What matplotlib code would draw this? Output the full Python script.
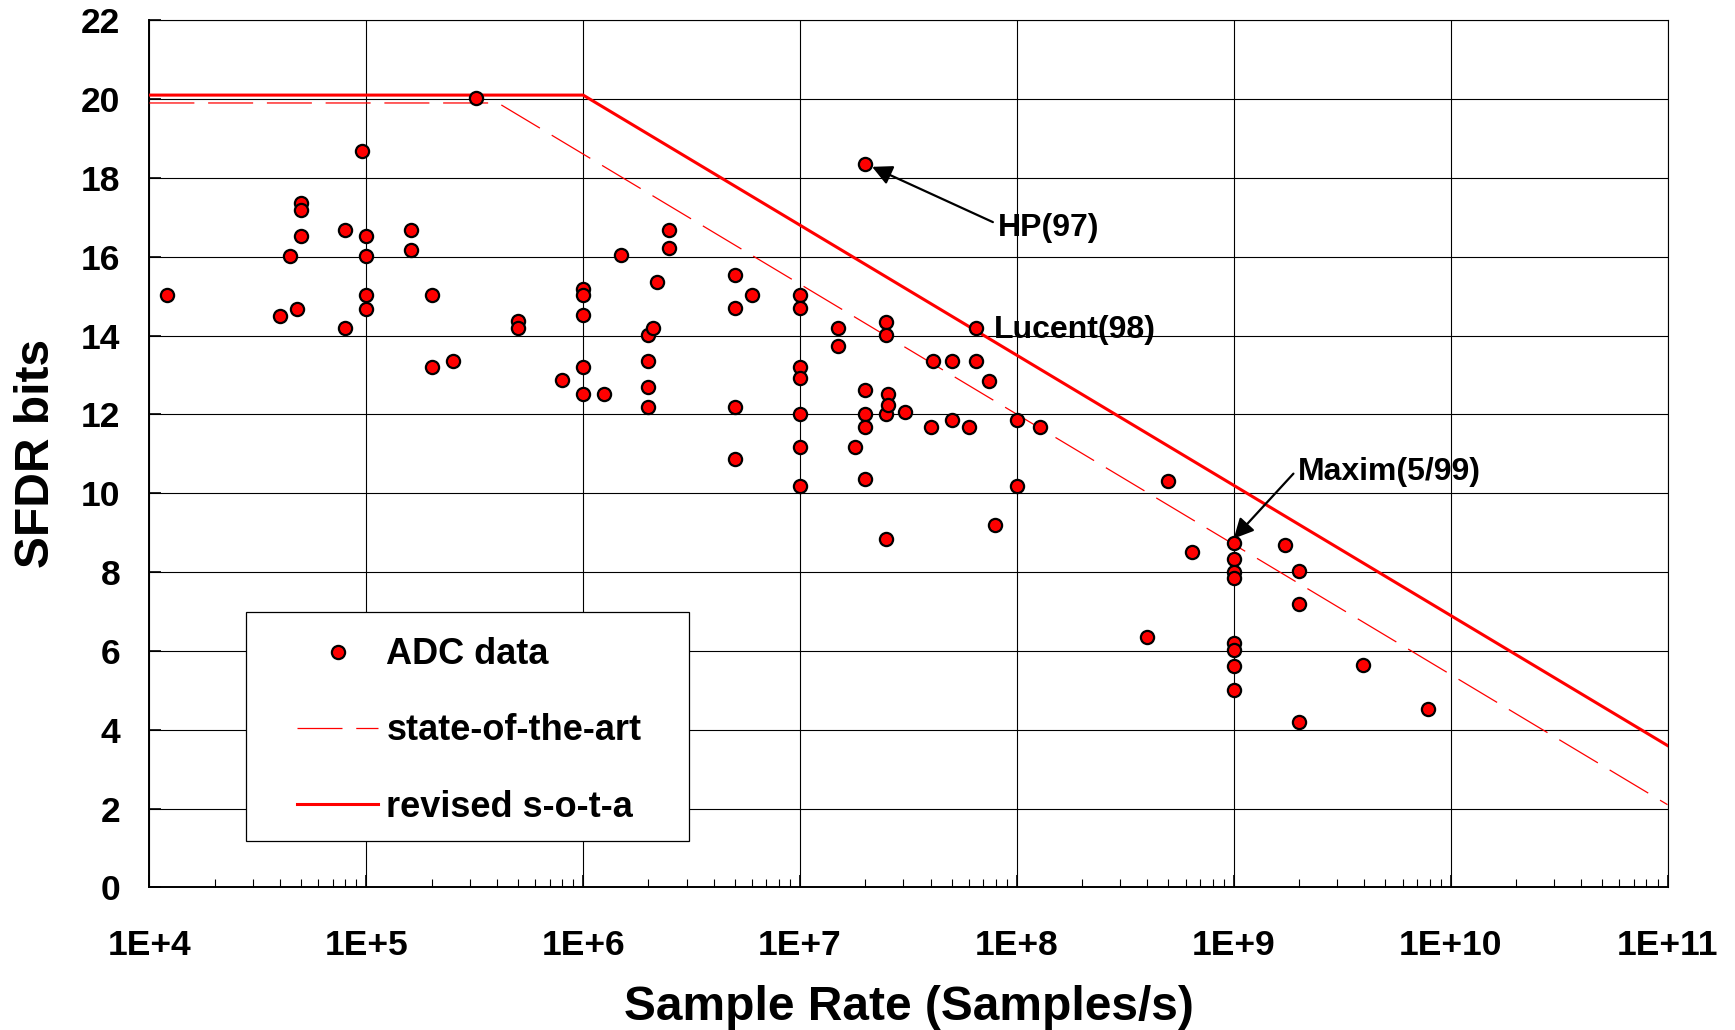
"""Plot ADC SFDR (bits) against sample rate with state-of-the-art lines."""
import matplotlib
matplotlib.use("Agg")
import matplotlib.pyplot as plt
from matplotlib.patches import Rectangle
from matplotlib.ticker import FixedLocator, LogLocator, NullFormatter

# ADC data: sample rate (Samples/s) and SFDR bits
rate = [
    1.2e4, 4.0e4, 4.45e4, 4.8e4, 5e4, 5e4, 5e4, 8e4, 8e4, 9.6e4,
    1e5, 1e5, 1e5, 1e5, 1.6e5, 1.6e5, 2e5, 2e5, 2.5e5, 3.2e5,
    5e5, 5e5, 8e5, 1e6, 1e6, 1e6, 1e6, 1e6, 1.25e6, 1.5e6,
    2e6, 2e6, 2e6, 2e6, 2.1e6, 2.2e6, 2.5e6, 2.5e6,
    5e6, 5e6, 5e6, 5e6, 6e6,
    1e7, 1e7, 1e7, 1e7, 1e7, 1e7, 1e7,
    1.5e7, 1.5e7, 1.8e7, 2e7, 2e7, 2e7, 2e7, 2e7,
    2.5e7, 2.5e7, 2.5e7, 2.5e7, 2.55e7, 2.55e7, 3.05e7,
    4e7, 4.1e7, 5e7, 5e7, 6e7, 6.45e7, 6.45e7, 7.45e7, 7.9e7,
    1e8, 1e8, 1.28e8, 4e8, 5e8, 6.45e8,
    1e9, 1e9, 1e9, 1e9, 1e9, 1e9, 1e9, 1e9,
    1.73e9, 2e9, 2e9, 2e9, 3.95e9, 7.9e9,
]
sfdr = [
    15.02, 14.5, 16.03, 14.68, 17.36, 17.19, 16.52, 16.69, 14.18, 18.68,
    16.52, 16.03, 15.02, 14.68, 16.69, 16.17, 15.02, 13.19, 13.35, 20.03,
    14.36, 14.18, 12.86, 15.19, 15.02, 14.51, 13.19, 12.53, 12.53, 16.04,
    14.01, 13.35, 12.69, 12.18, 14.19, 15.35, 16.69, 16.21,
    15.53, 14.69, 12.18, 10.86, 15.02,
    15.02, 14.69, 13.19, 12.93, 12.02, 11.18, 10.19,
    14.19, 13.74, 11.18, 18.36, 12.62, 12.02, 11.68, 10.35,
    14.35, 14.01, 12.02, 8.84, 12.53, 12.25, 12.06,
    11.68, 13.35, 13.35, 11.85, 11.68, 14.19, 13.35, 12.85, 9.19,
    11.85, 10.19, 11.68, 6.35, 10.32, 8.52,
    8.74, 8.34, 8.01, 7.85, 6.21, 6.02, 5.63, 5.02,
    8.69, 8.02, 7.18, 4.19, 5.64, 4.52,
]

# state-of-the-art and revised s-o-t-a lines (knee points)
sota_x = [1e4, 4.05e5, 1e11]
sota_y = [19.9, 19.9, 2.1]
revised_x = [1e4, 1e6, 1e11]
revised_y = [20.1, 20.1, 3.6]

# annotations: label, arrow tip (x, y), text position (x, y)
notes = [
    ("HP(97)", (2.15e7, 18.28), (8.2e7, 16.74)),
    ("Maxim(5/99)", (1e9, 8.85), (1.98e9, 10.55)),
]
lucent_label = "Lucent(98)"
lucent_pos = (7.8e7, 14.13)

decades = [1e4, 1e5, 1e6, 1e7, 1e8, 1e9, 1e10, 1e11]
decade_labels = ["1E+4", "1E+5", "1E+6", "1E+7", "1E+8", "1E+9", "1E+10", "1E+11"]
yticks = list(range(0, 23, 2))


def make_plot(out="out.png"):
    plt.rcParams["font.family"] = ["Liberation Sans", "DejaVu Sans"]
    plt.rcParams["font.weight"] = "bold"

    fig = plt.figure(figsize=(17.35, 10.3), dpi=100)
    ax = fig.add_axes([0.0861, 0.1384, 0.875, 0.842])

    ax.plot(sota_x, sota_y, color="#ff0000", lw=0.9, linestyle=(0, (36, 11)),
            label="state-of-the-art", zorder=3)
    ax.plot(revised_x, revised_y, color="#ff0000", lw=2.2,
            label="revised s-o-t-a", zorder=3)
    ax.plot(rate, sfdr, linestyle="none", marker="o", ms=9.5,
            mfc="#ff0000", mec="black", mew=1.6, label="ADC data", zorder=4)

    ax.set_xscale("log")
    ax.set_xlim(1e4, 1e11)
    ax.set_ylim(0, 22)

    ax.xaxis.set_major_locator(FixedLocator(decades))
    ax.set_xticklabels(decade_labels)
    ax.xaxis.set_minor_locator(LogLocator(base=10, subs=range(2, 10), numticks=20))
    ax.xaxis.set_minor_formatter(NullFormatter())
    ax.set_yticks(yticks)

    ax.grid(True, which="major", color="black", lw=0.8)
    ax.tick_params(axis="both", which="major", direction="in", labelsize=25.5,
                   length=8.5, width=1.2)
    ax.tick_params(axis="x", which="major", pad=30)
    ax.tick_params(axis="y", which="major", pad=21)
    ax.tick_params(axis="x", which="minor", direction="in", length=6, width=0.8)
    for side in ["top", "right"]:
        ax.spines[side].set_linewidth(0.8)
    for side in ["left", "bottom"]:
        ax.spines[side].set_linewidth(1.4)

    ax.set_xlabel("Sample Rate (Samples/s)", fontsize=34.5, fontweight="bold", va="center")
    ax.xaxis.set_label_coords(0.5, -0.138)
    ax.set_ylabel("SFDR bits", fontsize=34.5, fontweight="bold", va="center")
    ax.yaxis.set_label_coords(-0.0745, 0.5)

    for label, tip, pos in notes:
        ax.annotate(label, xy=tip, xytext=pos, fontsize=23, fontweight="bold",
                    ha="left", va="center",
                    arrowprops=dict(arrowstyle="-|>", color="black", lw=1.6,
                                    mutation_scale=30, shrinkA=2, shrinkB=0,
                                    relpos=(0, 0.6)))
    ax.text(lucent_pos[0], lucent_pos[1], lucent_label, fontsize=23,
            fontweight="bold", ha="left", va="center")

    # legend box drawn by hand so the padding matches
    ax.add_patch(Rectangle((0.0634, 0.0535), 0.2921, 0.264, transform=ax.transAxes,
                           facecolor="white", edgecolor="black", lw=0.9, zorder=5))
    handles, labels = ax.get_legend_handles_labels()
    order = [2, 0, 1]
    leg = ax.legend([handles[i] for i in order], [labels[i] for i in order],
                    loc="center left", bbox_to_anchor=(0.0853, 0.1805),
                    frameon=False, fontsize=26, handlelength=2.25,
                    handletextpad=0.23, labelspacing=1.14, borderpad=0.0)
    leg.set_zorder(6)

    fig.savefig(out, dpi=100)
    plt.close(fig)


def main():
    make_plot("out.png")
    print("Saved plot to out.png")


if __name__ == "__main__":
    main()
